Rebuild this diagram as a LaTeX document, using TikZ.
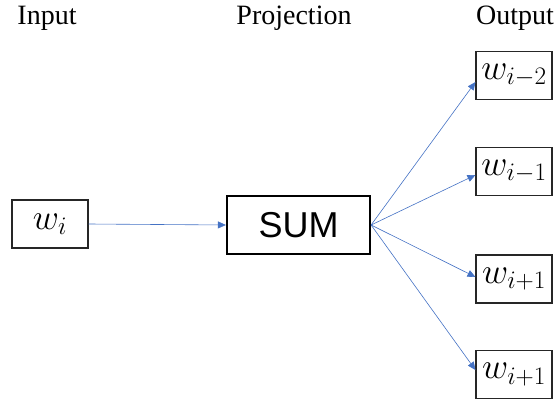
\RequirePackage{fix-cm}
\documentclass[tikz,border=0pt]{standalone}
\usepackage{fontspec}
\setmainfont{Liberation Serif}
\newfontfamily\sumfont{Liberation Sans}
\usetikzlibrary{arrows.meta}
\definecolor{arrowblue}{HTML}{4472C4}
\tikzset{
  wordbox/.style={draw=black!85, line width=1.1pt, minimum width=76pt, minimum height=48pt,
    inner sep=0pt, font=\fontsize{36}{40}\selectfont},
  sumbox/.style={draw=black, line width=2.2pt, minimum width=143pt, minimum height=58pt,
    inner sep=0pt, font=\sumfont\fontsize{36}{40}\selectfont},
  header/.style={anchor=base, inner sep=0pt, font=\fontsize{28}{32}\selectfont},
  link/.style={draw=arrowblue, line width=0.6pt, -{Triangle[length=8pt,width=7pt]}},
}
\begin{document}
\begin{tikzpicture}[x=1pt, y=-1pt]
  \useasboundingbox (0,0) rectangle (559,403);

  % column headers
  \node[header] (hin)   at (47,25)  {Input};
  \node[header] (hproj) at (294,25) {Projection};
  \node[header] (hout)  at (515,25) {Output};

  % input word, projection, context words
  \node[wordbox] (win) at (50,224) {$w_i$};
  \node[sumbox]  (sum) at (298.5,225) {SUM};
  \node[wordbox] (o1) at (514,75.5)  {$w_{i-2}$};
  \node[wordbox] (o2) at (514,171.5) {$w_{i-1}$};
  \node[wordbox] (o3) at (514,279)   {$w_{i+1}$};
  \node[wordbox] (o4) at (514,374.5) {$w_{i+1}$};

  % arrow end points on the left edges of the output boxes
  \coordinate (e1) at ([yshift=-6.5pt]o1.west);
  \coordinate (e2) at ([yshift=-3.5pt]o2.west);
  \coordinate (e3) at ([yshift=2pt]o3.west);
  \coordinate (e4) at ([yshift=4.5pt]o4.west);

  \draw[link] (win.east) -- (sum.west);
  \draw[link] (sum.east) -- (e1);
  \draw[link] (sum.east) -- (e2);
  \draw[link] (sum.east) -- (e3);
  \draw[link] (sum.east) -- (e4);
\end{tikzpicture}
\end{document}
